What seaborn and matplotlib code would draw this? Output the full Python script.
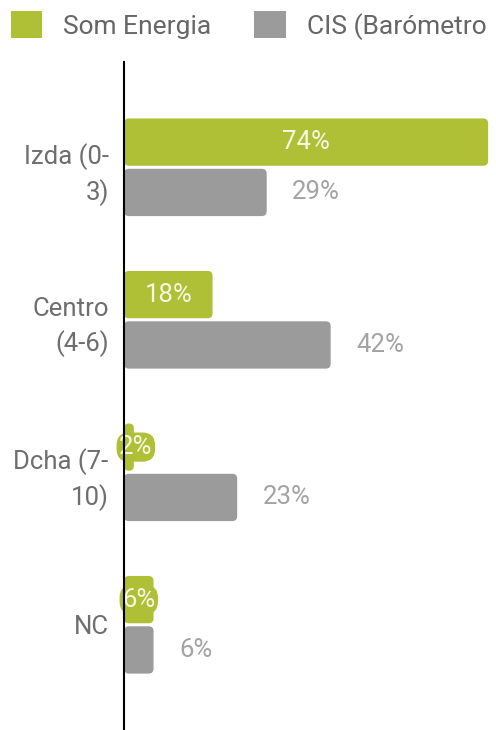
import numpy as np
import pandas as pd
import matplotlib.pyplot as plt
import seaborn as sns
from matplotlib.patches import FancyBboxPatch, Patch

# -----------------------------
# DATA
# -----------------------------
categories = ["Izda (0-\n3)", "Centro\n(4-6)", "Dcha (7-\n10)", "NC"]
series_names = ["Som Energia", "CIS (Barómetro"]
som_energia = [74, 18, 2, 6]
cis = [29, 42, 23, 6]

GREEN = "#AFBF36"
GREY = "#9B9B9B"

df = pd.DataFrame({
    "categoria": categories * 2,
    "serie": [series_names[0]] * 4 + [series_names[1]] * 4,
    "valor": som_energia + cis,
})

sns.set_theme(style="white")
plt.rcParams["font.family"] = ["Roboto", "DejaVu Sans"]

fig = plt.figure(figsize=(4.96, 7.30), dpi=100)
ax = fig.add_axes([0.25, 0.0, 0.75, 0.915])

sns.barplot(
    data=df, y="categoria", x="valor", hue="serie",
    order=categories, hue_order=series_names,
    palette=[GREEN, GREY], saturation=1, orient="h", width=0.66, gap=0.06,
    legend=False, ax=ax,
)

# rounded bars
px_x = 4.92
px_y = 152.5
for p in list(ax.patches):
    x0, y0 = p.get_x(), p.get_y()
    w, h = p.get_width(), p.get_height()
    fc = p.get_facecolor()
    p.remove()
    rb = FancyBboxPatch(
        (x0, y0), w, h,
        boxstyle="round,pad=0,rounding_size=1.0",
        mutation_aspect=px_x / px_y,
        facecolor=fc, edgecolor="none", zorder=2,
    )
    ax.add_patch(rb)

ax.set_xlim(0, 75.6)
ax.set_ylim(3.69, -0.69)

# value labels
off = 0.33 * 0.5
for i, v in enumerate(som_energia):
    xc = max(v / 2, 2.4)
    small = v < 8
    ax.text(
        xc, i - off, f"{v}%", ha="center", va="center",
        fontsize=18.5, color="#F6F7E4", zorder=4,
        bbox=dict(boxstyle="round,pad=0.1,rounding_size=0.5",
                  fc=GREEN, ec="none") if small else None,
    )
for i, v in enumerate(cis):
    ax.text(v + 5.2, i + off, f"{v}%", ha="left", va="center",
            fontsize=18.5, color="#A3A3A3", zorder=4)

ax.set_xlabel("")
ax.set_ylabel("")
ax.set_xticks([])
ax.tick_params(axis="y", length=0, pad=11, labelsize=18.5, labelcolor="#6E6E6E")
for lbl in ax.get_yticklabels():
    lbl.set_linespacing(1.42)
    lbl.set_horizontalalignment("right")

for s in ["top", "right", "bottom"]:
    ax.spines[s].set_visible(False)
ax.spines["left"].set_color("black")
ax.spines["left"].set_linewidth(1.5)
ax.spines["left"].set_zorder(5)

handles = [Patch(facecolor=GREEN, edgecolor="none"),
           Patch(facecolor=GREY, edgecolor="none")]
fig.legend(
    handles, series_names, loc="upper left", bbox_to_anchor=(-0.013, 1.008),
    ncol=2, frameon=False, fontsize=19, labelcolor="#666666",
    handlelength=1.2, handleheight=1.2, handletextpad=0.8,
    columnspacing=1.6, borderaxespad=0.25,
)

plt.savefig("out.png", dpi=100)
